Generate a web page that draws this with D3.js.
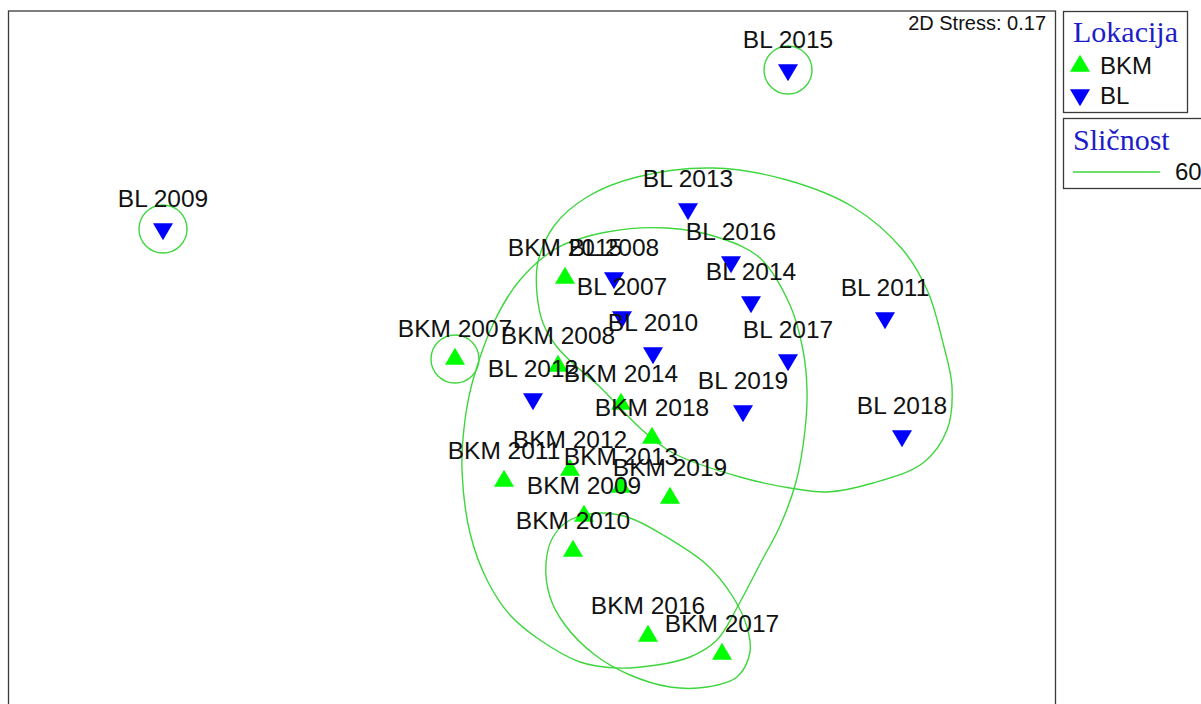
<!DOCTYPE html>
<html>
<head>
<meta charset="utf-8">
<script src="https://cdn.jsdelivr.net/npm/d3@7"></script>
<style>
  html, body { margin: 0; padding: 0; background: #fff; }
  svg { display: block; }
</style>
</head>
<body>
<svg id="chart" width="1201" height="704"></svg>
<script>
// ---- Data (nMDS coordinates) ----
const groups = ["BKM", "BL"];
const stressText = "2D Stress: 0.17";
const similarityLevel = "60";

const bkmLabels = ["BKM 2007","BKM 2008","BKM 2009","BKM 2010","BKM 2011","BKM 2012","BKM 2013",
                   "BKM 2014","BKM 2015","BKM 2016","BKM 2017","BKM 2018","BKM 2019"];
const bkmX = [-0.385, 0.13, 0.26, 0.205, -0.14, 0.19, 0.445, 0.445, 0.165, 0.58, 0.95, 0.60, 0.69];
const bkmY = [-0.065, -0.10, -0.85, -1.025, -0.675, -0.62, -0.705, -0.29, 0.34, -1.45, -1.54, -0.46, -0.76];

const blLabels = ["BL 2007","BL 2008","BL 2009","BL 2010","BL 2011","BL 2012","BL 2013",
                  "BL 2014","BL 2015","BL 2016","BL 2017","BL 2018","BL 2019"];
const blX = [0.45, 0.41, -1.845, 0.605, 1.765, 0.005, 0.78, 1.095, 1.28, 0.995, 1.28, 1.85, 1.055];
const blY = [0.145, 0.34, 0.585, -0.035, 0.14, -0.265, 0.685, 0.22, 1.38, 0.42, -0.07, -0.45, -0.325];

// 60% similarity contours (closed outlines in MDS space)
const contourA = [[0.03,0.42],[0.11,0.60],[0.275,0.745],[0.525,0.845],[0.905,0.89],[1.275,0.83],
  [1.605,0.695],[1.855,0.48],[1.98,0.27],[2.055,0.015],[2.10,-0.205],[2.075,-0.42],[1.955,-0.585],
  [1.705,-0.685],[1.475,-0.73],[1.29,-0.71],[1.04,-0.655],[0.705,-0.535],[0.54,-0.41],[0.34,-0.205],
  [0.225,-0.105],[0.125,-0.005],[0.055,0.115],[0.025,0.26]];
const contourB = [[0.375,0.57],[0.675,0.59],[0.94,0.54],[1.14,0.44],[1.29,0.205],[1.355,-0.02],
  [1.375,-0.22],[1.365,-0.42],[1.32,-0.68],[1.24,-0.90],[1.14,-1.09],[1.035,-1.29],[0.925,-1.47],
  [0.79,-1.555],[0.625,-1.595],[0.425,-1.61],[0.24,-1.58],[0.04,-1.47],[-0.11,-1.345],[-0.225,-1.17],
  [-0.31,-0.935],[-0.35,-0.62],[-0.335,-0.37],[-0.295,-0.17],[-0.185,0.13],[-0.06,0.33],[0.125,0.49]];
const contourC = [[0.19,-0.87],[0.34,-0.835],[0.49,-0.86],[0.655,-0.945],[0.875,-1.095],[1.005,-1.255],
  [1.075,-1.405],[1.09,-1.53],[1.025,-1.655],[0.875,-1.705],[0.69,-1.705],[0.49,-1.645],[0.315,-1.545],
  [0.165,-1.395],[0.09,-1.255],[0.07,-1.085],[0.105,-0.955]];
const singletonLabels = ["BL 2015", "BL 2009", "BKM 2007"];
const singletonRadius = 0.12;

// ---- Layout ----
const svg = d3.select("#chart");
const frame = {left: 8.5, top: 11, right: 1055.5, bottom: 723};
const x = d3.scaleLinear().domain([-2.6175, 2.6175]).range([frame.left, frame.right]);
const y = d3.scaleLinear().domain([1.675, -1.885]).range([frame.top, frame.bottom]);
const green = "#00ff00", blue = "#0000ff", lineGreen = "#3ed63e";
const sans = "'Liberation Sans', Arial, sans-serif";
const serif = "'Liberation Serif', 'Times New Roman', serif";

const pts = [];
bkmLabels.forEach((l, i) => pts.push({label: l, g: "BKM", x: bkmX[i], y: bkmY[i]}));
blLabels.forEach((l, i) => pts.push({label: l, g: "BL", x: blX[i], y: blY[i]}));

const triW = 20, triH = 17;
function tri(up) {
  return up
    ? `M0,${-2*triH/3}L${triW/2},${triH/3}L${-triW/2},${triH/3}Z`
    : `M0,${2*triH/3}L${triW/2},${-triH/3}L${-triW/2},${-triH/3}Z`;
}

svg.append("clipPath").attr("id", "plotclip")
  .append("rect").attr("x", frame.left).attr("y", frame.top)
  .attr("width", frame.right - frame.left).attr("height", frame.bottom - frame.top);

const plot = svg.append("g").attr("clip-path", "url(#plotclip)");

// contours
const line = d3.line().x(d => x(d[0])).y(d => y(d[1])).curve(d3.curveCatmullRomClosed.alpha(0.5));
plot.selectAll("path.contour").data([contourA, contourB, contourC]).join("path")
  .attr("class", "contour").attr("d", line)
  .attr("fill", "none").attr("stroke", lineGreen).attr("stroke-width", 1.4);

const pxPerUnit = x(1) - x(0);
plot.selectAll("circle.single").data(pts.filter(p => singletonLabels.includes(p.label))).join("circle")
  .attr("class", "single")
  .attr("cx", d => x(d.x)).attr("cy", d => y(d.y))
  .attr("r", singletonRadius * pxPerUnit)
  .attr("fill", "none").attr("stroke", lineGreen).attr("stroke-width", 1.4);

// markers
plot.selectAll("path.mark").data(pts).join("path")
  .attr("class", "mark")
  .attr("transform", d => `translate(${x(d.x)},${y(d.y)})`)
  .attr("d", d => tri(d.g === "BKM"))
  .attr("fill", d => d.g === "BKM" ? green : blue);

// labels
plot.selectAll("text.lbl").data(pts).join("text")
  .attr("class", "lbl")
  .attr("x", d => x(d.x)).attr("y", d => y(d.y) - 22)
  .attr("text-anchor", "middle")
  .attr("font-family", sans).attr("font-size", 24.5).attr("fill", "#111")
  .text(d => d.label);

// frame
svg.append("rect").attr("x", frame.left).attr("y", frame.top)
  .attr("width", frame.right - frame.left).attr("height", frame.bottom - frame.top)
  .attr("fill", "none").attr("stroke", "#3a3a3a").attr("stroke-width", 1.3);

svg.append("text").attr("x", 1046).attr("y", 30).attr("text-anchor", "end")
  .attr("font-family", sans).attr("font-size", 20).attr("fill", "#111")
  .text(stressText);

// legend 1: Lokacija
const lg = svg.append("g");
lg.append("rect").attr("x", 1063.5).attr("y", 11.5).attr("width", 124).attr("height", 101)
  .attr("fill", "#fff").attr("stroke", "#3a3a3a").attr("stroke-width", 1.3);
lg.append("text").attr("x", 1073).attr("y", 42)
  .attr("font-family", serif).attr("font-size", 30).attr("fill", "#1c1cc8").text("Lokacija");
groups.forEach((g, i) => {
  const cy = 66 + i * 30;
  lg.append("path").attr("transform", `translate(1080,${i === 0 ? cy : cy - 1})`)
    .attr("d", tri(g === "BKM")).attr("fill", g === "BKM" ? green : blue);
  lg.append("text").attr("x", 1100).attr("y", 74 + i * 30)
    .attr("font-family", sans).attr("font-size", 24).attr("fill", "#111").text(g);
});

// legend 2: Sličnost
const lg2 = svg.append("g");
lg2.append("rect").attr("x", 1063.5).attr("y", 118.5).attr("width", 160).attr("height", 70)
  .attr("fill", "#fff").attr("stroke", "#3a3a3a").attr("stroke-width", 1.3);
lg2.append("text").attr("x", 1073).attr("y", 150)
  .attr("font-family", serif).attr("font-size", 30).attr("fill", "#1c1cc8").text("Sličnost");
lg2.append("line").attr("x1", 1073).attr("x2", 1160).attr("y1", 172).attr("y2", 172)
  .attr("stroke", lineGreen).attr("stroke-width", 1.4);
lg2.append("text").attr("x", 1175).attr("y", 180)
  .attr("font-family", sans).attr("font-size", 24).attr("fill", "#111").text(similarityLevel);
</script>
</body>
</html>
